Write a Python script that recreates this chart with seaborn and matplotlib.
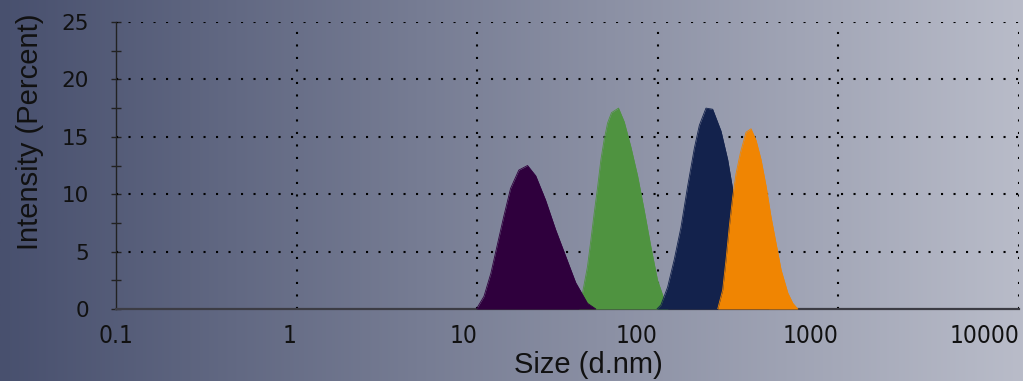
import numpy as np
import pandas as pd
import matplotlib
matplotlib.use("Agg")
import matplotlib.pyplot as plt
from matplotlib import font_manager
from matplotlib.ticker import FixedLocator, NullFormatter, LogLocator
import seaborn as sns

# Size distributions by intensity (d.nm vs %)
size_a = [9.9, 10.9, 11.9, 13.1, 14.0, 15.3, 17.0, 19.0, 21.1, 23.9, 27.2, 30.9, 35.1, 40.8, 45.4]
int_a = [0.0, 1.1, 3.1, 6.0, 8.0, 10.5, 12.1, 12.5, 11.6, 9.5, 6.9, 4.6, 2.3, 0.5, 0.0]

size_b = [36.5, 38.3, 40.8, 42.6, 44.4, 46.4, 48.4, 50.4, 52.7, 55.4, 60.6, 65.2, 71.0, 77.3, 84.1, 91.6, 99.7, 108.6, 113.8]
int_b = [0.0, 1.4, 3.7, 6.0, 8.3, 10.6, 13.0, 14.7, 16.2, 17.1, 17.5, 16.3, 14.1, 11.6, 8.6, 5.4, 2.5, 0.8, 0.0]

size_c = [98.9, 104.0, 113.3, 123.3, 134.3, 146.3, 159.3, 169.8, 184.8, 201.3, 223.9, 243.9, 260.0, 289.0, 328.2, 373.2, 413.0]
int_c = [0.0, 0.35, 1.9, 4.3, 7.1, 10.7, 14.0, 16.0, 17.5, 17.4, 15.5, 13.0, 10.4, 7.0, 3.5, 1.0, 0.0]

size_d = [214.6, 228.6, 238.6, 248.9, 260.0, 271.2, 286.6, 308.1, 328.2, 349.9, 373.2, 397.8, 423.9, 451.9, 481.8, 524.8, 559.4, 596.3]
int_d = [0.0, 1.65, 4.3, 7.2, 9.8, 11.8, 13.6, 15.4, 15.7, 14.7, 13.0, 10.7, 8.0, 5.7, 3.4, 1.4, 0.5, 0.0]

series = [
    ("A", size_b, int_b, "#4f9340"),
    ("B", size_a, int_a, "#2f003d"),
    ("C", size_c, int_c, "#13224c"),
    ("D", size_d, int_d, "#f08502"),
]

x_ticks = [0.1, 1, 10, 100, 1000, 10000]
x_tick_labels = ["0.1", "1", "10", "100", "1000", "10000"]
y_ticks = [0, 5, 10, 15, 20, 25]

sns.set_theme(style="white")
plt.rcParams["font.family"] = ["Liberation Sans", "DejaVu Sans"]

# pick a narrow face for the size tick labels if one is available
names = {f.name for f in font_manager.fontManager.ttflist}
condensed = [f for f in font_manager.fontManager.ttflist
             if f.name == "DejaVu Sans" and "ondensed" in str(f.stretch).lower() + f.fname]
if "Liberation Sans Narrow" in names:
    narrow_kw = dict(family="Liberation Sans Narrow")
elif condensed:
    narrow_kw = dict(family="DejaVu Sans", stretch="condensed")
else:
    narrow_kw = dict(family="Liberation Sans")

W, H = 1023, 381
fig = plt.figure(figsize=(W / 100, H / 100), dpi=100)

# horizontal gradient backdrop
bg = fig.add_axes([0, 0, 1, 1], zorder=-10)
left_c = np.array([72, 80, 110]) / 255
right_c = np.array([185, 188, 201]) / 255
t = np.linspace(0, 1, 512)[None, :, None]
grad = left_c[None, None, :] * (1 - t) + right_c[None, None, :] * t
bg.imshow(grad, aspect="auto", extent=[0, 1, 0, 1])
bg.axis("off")

ax = fig.add_axes([116 / W, 1 - 309 / H, 903 / W, 287 / H])
ax.patch.set_alpha(0)
ax.set_xscale("log")
ax.set_xlim(0.1, 10000)
ax.set_ylim(0, 25)

for name, xs, ys, col in series:
    df = pd.DataFrame({"size": xs, "intensity": ys})
    sns.lineplot(data=df, x="size", y="intensity", ax=ax, color=col, lw=0.6, zorder=3, sort=True)
    ax.fill_between(df["size"], 0, df["intensity"], color=col, lw=0, zorder=3)

# dotted grid
for v in x_ticks[1:]:
    ax.axvline(v, color="black", lw=1.5, ls=(0, (1, 5)), zorder=1)
for v in y_ticks[1:]:
    ax.axhline(v, color="black", lw=1.5, ls=(0, (1, 5)), zorder=1)

for s in ["top", "right"]:
    ax.spines[s].set_visible(False)
ax.spines["left"].set_color("#222222")
ax.spines["left"].set_linewidth(1.0)
ax.spines["bottom"].set_color("#3c3c44")
ax.spines["bottom"].set_linewidth(1.6)

ax.xaxis.set_major_locator(FixedLocator(x_ticks))
ax.xaxis.set_minor_locator(LogLocator(base=10, subs=np.arange(2, 10)))
ax.xaxis.set_minor_formatter(NullFormatter())
ax.set_xticklabels(x_tick_labels)
ax.set_yticks(y_ticks)
ax.yaxis.set_minor_locator(FixedLocator([2.5, 7.5, 12.5, 17.5, 22.5]))

ax.tick_params(axis="x", which="major", direction="inout", length=8, width=1, color="#222222",
               pad=7, labelsize=17.5, labelcolor="#111111")
ax.tick_params(axis="x", which="minor", direction="out", length=4, width=0.8, color="#222222")
ax.tick_params(axis="y", which="both", direction="inout", length=7, width=1, color="#222222",
               pad=16, labelsize=15.5, labelcolor="#111111", left=True)

for i, lab in enumerate(ax.get_xticklabels()):
    lab.set_family(narrow_kw["family"])
    if "stretch" in narrow_kw:
        lab.set_stretch(narrow_kw["stretch"])
    lab.set_horizontalalignment("center" if i == 0 else "right")
for lab in ax.get_yticklabels():
    lab.set_family(["DejaVu Sans"])

ax.set_xlabel("Size (d.nm)", fontsize=21, color="#111111")
ax.set_ylabel("Intensity (Percent)", fontsize=21, color="#111111")
ax.xaxis.set_label_coords((588 - 116) / 903, -0.146)
ax.yaxis.set_label_coords((44 - 116) / 903, 0.618)

fig.savefig("out.png", dpi=100)
